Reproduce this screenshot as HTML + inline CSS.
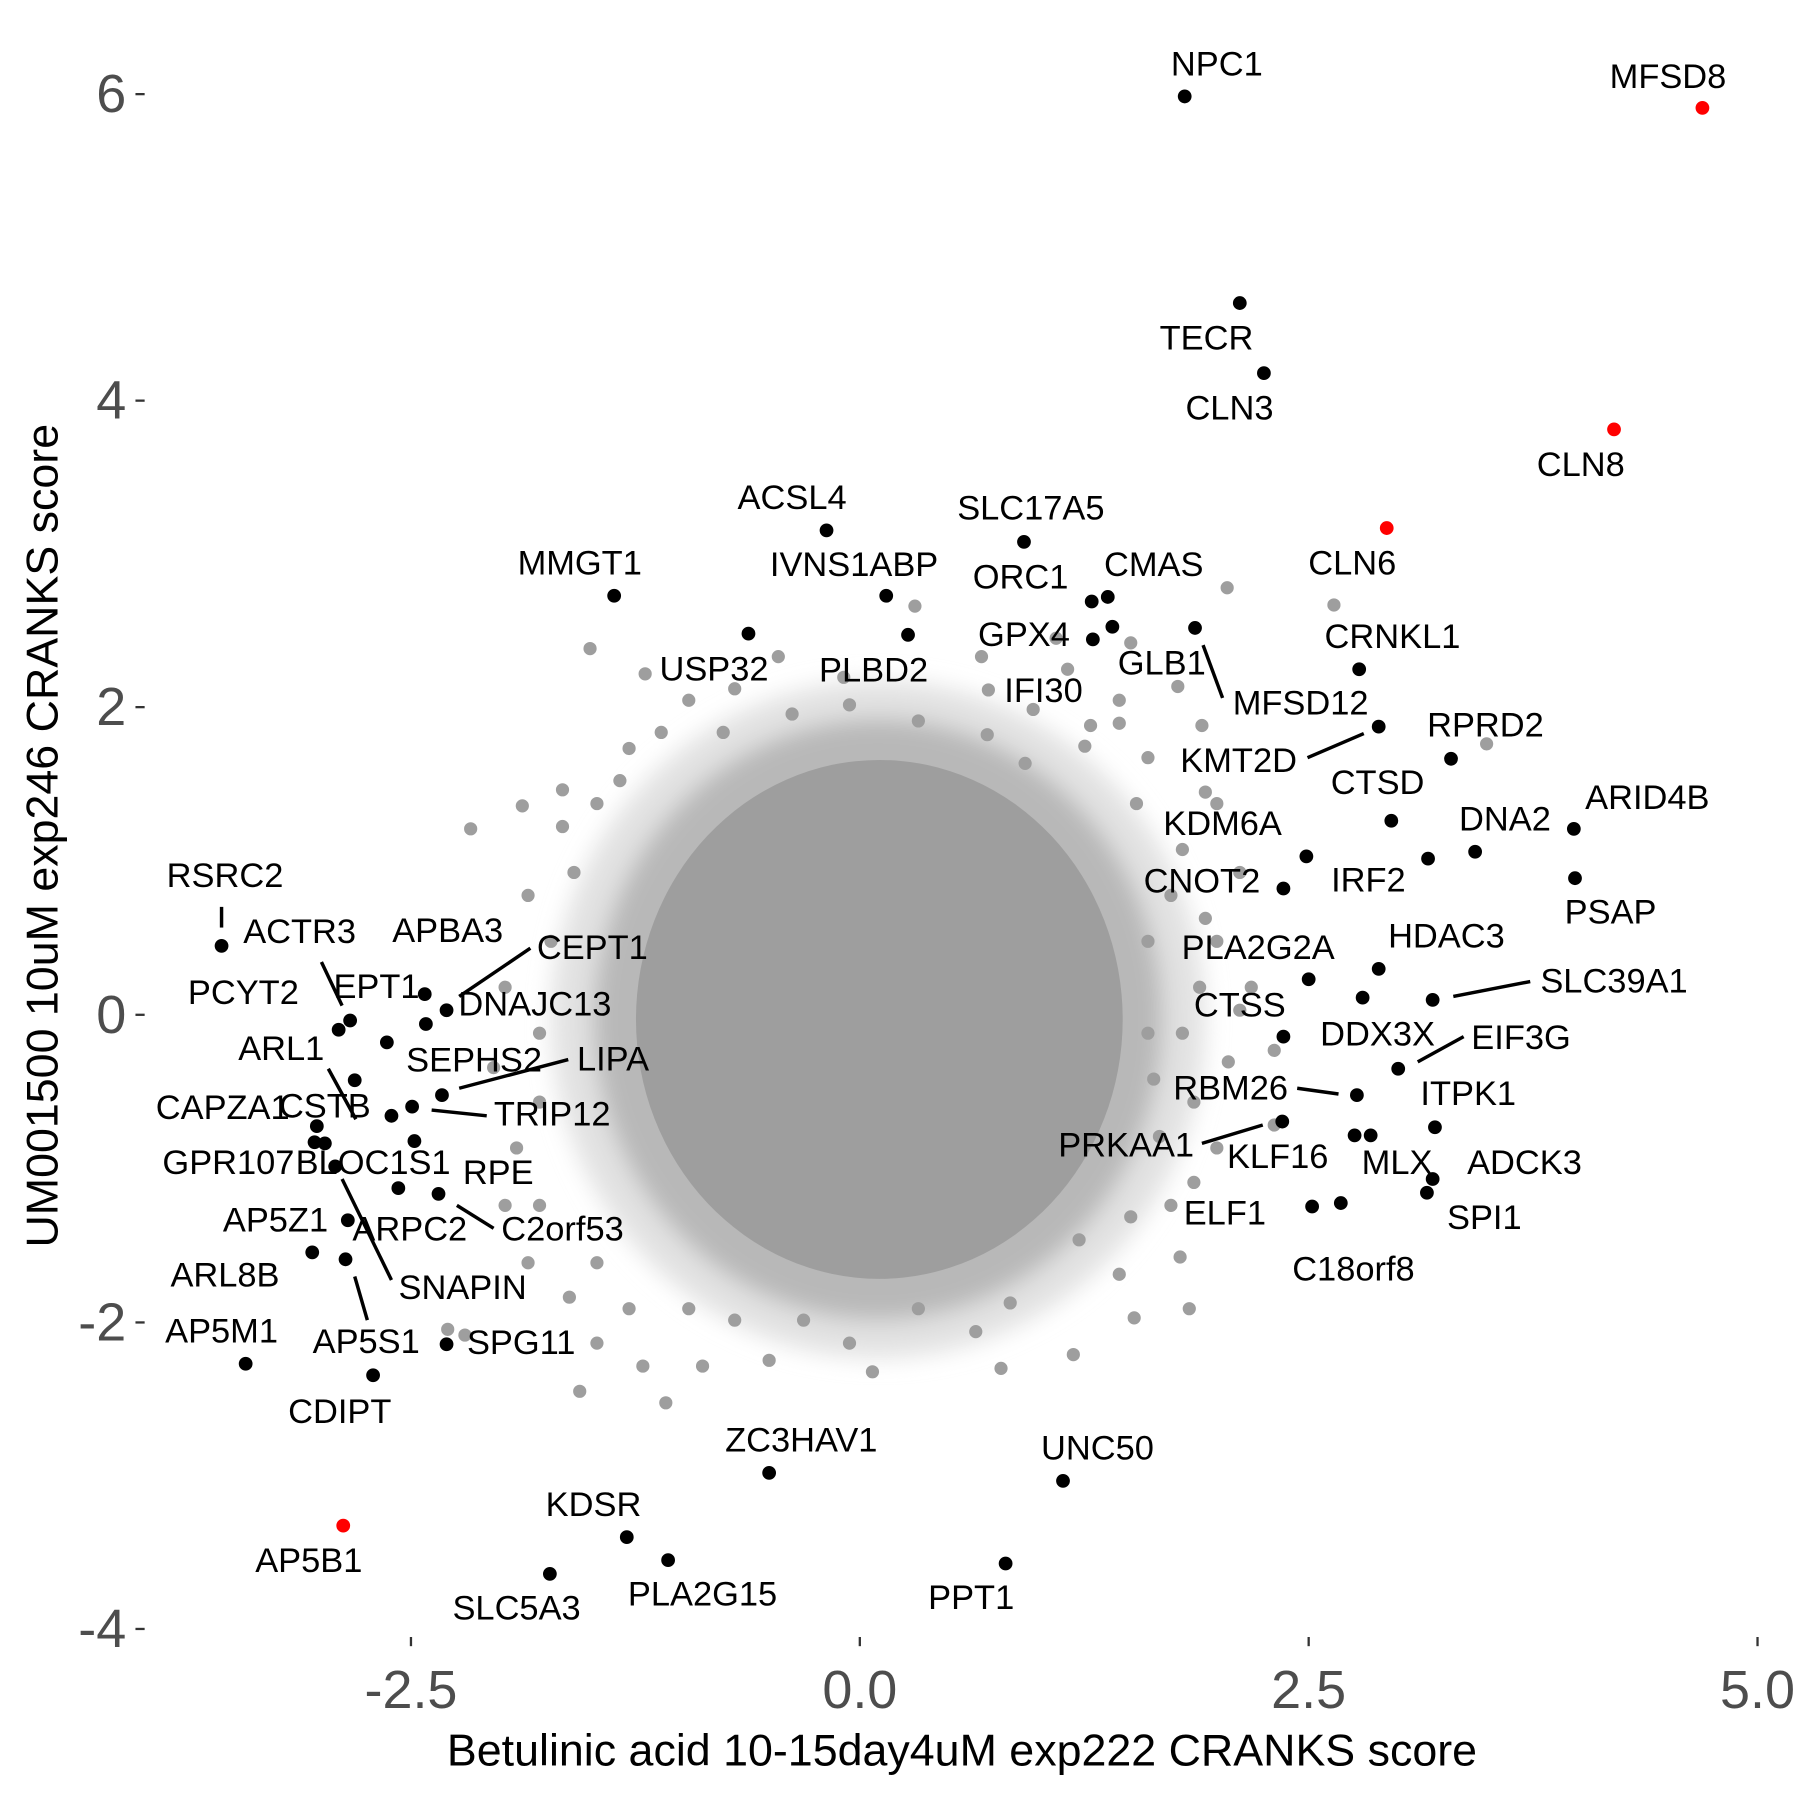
<!DOCTYPE html>
<html><head><meta charset="utf-8"><style>html,body{margin:0;padding:0;background:#fff}svg{display:block}text{font-family:"Liberation Sans",Arial,sans-serif}</style></head>
<body>
<svg width="1800" height="1800" viewBox="0 0 1568 1568" xmlns="http://www.w3.org/2000/svg">
<defs><filter id="b" x="-30%" y="-30%" width="160%" height="160%"><feGaussianBlur stdDeviation="10"/></filter></defs>
<rect width="1568" height="1568" fill="#fff"/>
<g filter="url(#b)">
<ellipse cx="765" cy="888" rx="285" ry="295" fill="#e2e2e2"/>
<ellipse cx="765" cy="888" rx="248" ry="262" fill="#b8b8b8"/>
</g>
<ellipse cx="766" cy="888" rx="212" ry="226" fill="#9e9e9e"/>
<path fill="none" stroke="#9e9e9e" stroke-width="11.5" stroke-linecap="round" d="M514 565h0M797 528h0M1069 512h0M1162 527h0M1295 648h0M548 652h0M576 638h0M630 638h0M690 622h0M740 614h0M800 628h0M860 640h0M900 618h0M950 632h0M975 610h0M1000 660h0M1047 632h0M1050 690h0M990 700h0M1030 740h0M1020 780h0M1050 800h0M1000 820h0M1045 860h0M1030 900h0M1090 860h0M1110 915h0M1070 925h0M1040 960h0M1010 990h0M1060 1000h0M1020 1050h0M985 1060h0M940 1080h0M975 1110h0M988 1148h0M935 1180h0M880 1135h0M872 1192h0M850 1160h0M800 1140h0M740 1170h0M700 1150h0M670 1185h0M640 1150h0M600 1140h0M580 1222h0M560 1190h0M520 1170h0M505 1212h0M496 1130h0M460 1100h0M440 1050h0M450 1000h0M470 960h0M430 930h0M470 900h0M440 860h0M480 820h0M460 780h0M500 760h0M490 720h0M520 700h0M540 680h0M410 722h0M455 702h0M490 688h0M390 1158h0M405 1163h0M1036 1140h0M548 1140h0M612 1190h0M760 1195h0M1028 1095h0M1080 880h0M1060 700h0M985 560h0M930 583h0M861 601h0M920 556h0M855 572h0M678 572h0M735 590h0M562 587h0M600 610h0M640 600h0M1000 900h0M1005 940h0M1080 760h0M1060 820h0M470 1050h0M520 1100h0M1026 598h0M975 630h0M893 665h0M945 650h0M1110 980h0M1040 1030h0"/>
<g stroke="#000" stroke-width="3" fill="none">
<line x1="193" y1="790" x2="193" y2="808"/>
<line x1="280" y1="838" x2="298" y2="876"/>
<line x1="400" y1="868" x2="462" y2="826"/>
<line x1="286" y1="931" x2="310" y2="975"/>
<line x1="400" y1="948" x2="495" y2="923"/>
<line x1="376" y1="967" x2="424" y2="972"/>
<line x1="398" y1="1050" x2="430" y2="1070"/>
<line x1="298" y1="1027" x2="341" y2="1115"/>
<line x1="309" y1="1112" x2="320" y2="1150"/>
<line x1="1048" y1="562" x2="1065" y2="608"/>
<line x1="1139" y1="660" x2="1188" y2="639"/>
<line x1="1266" y1="868" x2="1333" y2="855"/>
<line x1="1235" y1="925" x2="1275" y2="903"/>
<line x1="1130" y1="948" x2="1166" y2="953"/>
<line x1="1047" y1="996" x2="1100" y2="980"/>
</g>
<path fill="none" stroke="#000" stroke-width="12" stroke-linecap="round" d="M1032 84h0M1080 264h0M1101 325h0M720 462h0M892 472h0M535 519h0M772 519h0M951 524h0M965 520h0M652 552h0M791 553h0M952 557h0M969 546h0M1041 547h0M1184 583h0M1264 661h0M1201 633h0M1212 715h0M1371 722h0M1285 742h0M1138 746h0M1244 748h0M1118 774h0M1372 765h0M1201 844h0M1140 853h0M1248 871h0M1187 869h0M1118 903h0M1218 931h0M1182 954h0M1250 982h0M1117 977h0M1180 989h0M1194 989h0M1248 1027h0M1243 1039h0M1143 1051h0M1168 1048h0M670 1283h0M926 1290h0M546 1339h0M479 1371h0M582 1359h0M876 1362h0M193 824h0M305 889h0M295 897h0M370 866h0M389 880h0M371 892h0M337 908h0M309 941h0M385 954h0M359 964h0M341 972h0M361 994h0M276 981h0M274 995h0M283 996h0M292 1016h0M347 1035h0M382 1040h0M303 1063h0M272 1091h0M301 1097h0M214 1188h0M389 1171h0M325 1198h0"/>
<path fill="none" stroke="#f00" stroke-width="12" stroke-linecap="round" d="M1483 94h0M1406 374h0M1208 460h0M299 1329h0"/>
<g font-size="30" fill="#000" text-anchor="middle" dominant-baseline="central">
<text x="1060" y="56">NPC1</text><text x="1453" y="67">MFSD8</text><text x="1051" y="295">TECR</text><text x="1071" y="356">CLN3</text><text x="1377" y="405">CLN8</text><text x="690" y="434">ACSL4</text><text x="898" y="443">SLC17A5</text><text x="1178" y="491">CLN6</text><text x="505" y="491">MMGT1</text><text x="744" y="492">IVNS1ABP</text><text x="889" y="503">ORC1</text><text x="1005" y="492">CMAS</text><text x="622" y="583">USP32</text><text x="761" y="584">PLBD2</text><text x="892" y="553">GPX4</text><text x="1012" y="578">GLB1</text><text x="1133" y="613">MFSD12</text><text x="909" y="602">IFI30</text><text x="1213" y="555">CRNKL1</text><text x="1294" y="632">RPRD2</text><text x="1079" y="663">KMT2D</text><text x="1200" y="682">CTSD</text><text x="1435" y="695">ARID4B</text><text x="1311" y="714">DNA2</text><text x="1065" y="718">KDM6A</text><text x="1192" y="767">IRF2</text><text x="1047" y="768">CNOT2</text><text x="1403" y="795">PSAP</text><text x="1260" y="816">HDAC3</text><text x="1096" y="826">PLA2G2A</text><text x="1406" y="855">SLC39A1</text><text x="1080" y="876">CTSS</text><text x="1200" y="901">DDX3X</text><text x="1325" y="904">EIF3G</text><text x="1279" y="953">ITPK1</text><text x="1072" y="948">RBM26</text><text x="981" y="998">PRKAA1</text><text x="1113" y="1008">KLF16</text><text x="1217" y="1013">MLX</text><text x="1328" y="1013">ADCK3</text><text x="1293" y="1061">SPI1</text><text x="1067" y="1057">ELF1</text><text x="1179" y="1106">C18orf8</text><text x="698" y="1255">ZC3HAV1</text><text x="956" y="1262">UNC50</text><text x="517" y="1311">KDSR</text><text x="269" y="1360">AP5B1</text><text x="450" y="1401">SLC5A3</text><text x="612" y="1389">PLA2G15</text><text x="846" y="1392">PPT1</text>
<text x="196" y="763">RSRC2</text><text x="261" y="812">ACTR3</text><text x="390" y="811">APBA3</text><text x="516" y="826">CEPT1</text><text x="212" y="865">PCYT2</text><text x="328" y="860">EPT1</text><text x="466" y="875">DNAJC13</text><text x="245" y="914">ARL1</text><text x="413" y="924">SEPHS2</text><text x="534" y="923">LIPA</text><text x="194" y="965">CAPZA1</text><text x="283" y="964">CSTB</text><text x="481" y="971">TRIP12</text><text x="199" y="1013">GPR107</text><text x="325" y="1013">BLOC1S1</text><text x="434" y="1022">RPE</text><text x="490" y="1071">C2orf53</text><text x="240" y="1063">AP5Z1</text><text x="357" y="1071">ARPC2</text><text x="403" y="1122">SNAPIN</text><text x="319" y="1169">AP5S1</text><text x="196" y="1111">ARL8B</text><text x="193" y="1160">AP5M1</text><text x="454" y="1170">SPG11</text><text x="296" y="1230">CDIPT</text>
</g>
<g stroke="#333" stroke-width="2">
<line x1="118" y1="82" x2="126" y2="82"/><line x1="118" y1="349" x2="126" y2="349"/><line x1="118" y1="616" x2="126" y2="616"/><line x1="118" y1="884" x2="126" y2="884"/><line x1="118" y1="1152" x2="126" y2="1152"/><line x1="118" y1="1419" x2="126" y2="1419"/>
<line x1="358" y1="1426" x2="358" y2="1434"/><line x1="749" y1="1426" x2="749" y2="1434"/><line x1="1140" y1="1426" x2="1140" y2="1434"/><line x1="1531" y1="1426" x2="1531" y2="1434"/>
</g>
<g font-size="47" fill="#4d4d4d" text-anchor="end" dominant-baseline="central">
<text x="110" y="82">6</text><text x="110" y="349">4</text><text x="110" y="616">2</text><text x="110" y="884">0</text><text x="110" y="1152">-2</text><text x="110" y="1419">-4</text>
</g>
<g font-size="47" fill="#4d4d4d" text-anchor="middle">
<text x="358" y="1488">-2.5</text><text x="749" y="1488">0.0</text><text x="1140" y="1488">2.5</text><text x="1531" y="1488">5.0</text>
</g>
<text x="838" y="1538" font-size="39" text-anchor="middle">Betulinic acid 10-15day4uM exp222 CRANKS score</text>
<text transform="translate(50,728) rotate(-90)" font-size="39" text-anchor="middle">UM001500 10uM exp246 CRANKS score</text>
</svg>
</body></html>
